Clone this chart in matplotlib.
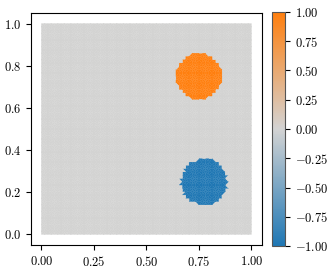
import matplotlib
matplotlib.use("Agg")
import matplotlib.pyplot as plt
import matplotlib.tri as mtri
import numpy as np
from matplotlib.colors import LinearSegmentedColormap
from matplotlib.ticker import FuncFormatter, MultipleLocator

plt.rcParams["mathtext.fontset"] = "cm"
plt.rcParams["font.size"] = 9

# mesh resolution and the two discs (centre x, centre y, radius, value)
N_CELLS = 64
disc_x = [0.75, 0.775]
disc_y = [0.75, 0.25]
disc_r = [0.11, 0.11]
disc_val = [1.0, -1.0]

xs = np.linspace(0.0, 1.0, N_CELLS + 1)
X, Y = np.meshgrid(xs, xs)
tri = mtri.Triangulation(X.ravel(), Y.ravel())
cx = X.ravel()[tri.triangles].mean(axis=1)
cy = Y.ravel()[tri.triangles].mean(axis=1)
face = np.zeros(len(cx))
for x0, y0, r, v in zip(disc_x, disc_y, disc_r, disc_val):
    face[(cx - x0) ** 2 + (cy - y0) ** 2 <= r ** 2] = v

cmap = LinearSegmentedColormap.from_list("bgo", ["#1f77b4", "#d3d3d3", "#ff7f0e"])

fig = plt.figure(figsize=(3.32, 2.71), dpi=100)
ax = fig.add_axes([0.093, 0.096, 0.696, 0.856])
cax = fig.add_axes([0.819, 0.092, 0.040, 0.864])

tpc = ax.tripcolor(tri, facecolors=face, cmap=cmap, vmin=-1, vmax=1,
                   shading="flat", edgecolors="face", linewidth=0.2)

fmt = FuncFormatter(lambda v, p: f"${v:.2f}$")
fmt1 = FuncFormatter(lambda v, p: f"${v:.1f}$")
ax.xaxis.set_major_locator(MultipleLocator(0.25))
ax.yaxis.set_major_locator(MultipleLocator(0.2))
ax.xaxis.set_major_formatter(fmt)
ax.yaxis.set_major_formatter(fmt1)
ax.set_xlim(-0.05, 1.05)
ax.set_ylim(-0.05, 1.05)

cb = fig.colorbar(tpc, cax=cax)
cb.set_ticks(np.arange(-1, 1.01, 0.25))
cb.ax.yaxis.set_major_formatter(fmt)
cb.outline.set_edgecolor("#555555")

fig.savefig("out.png", dpi=100)
